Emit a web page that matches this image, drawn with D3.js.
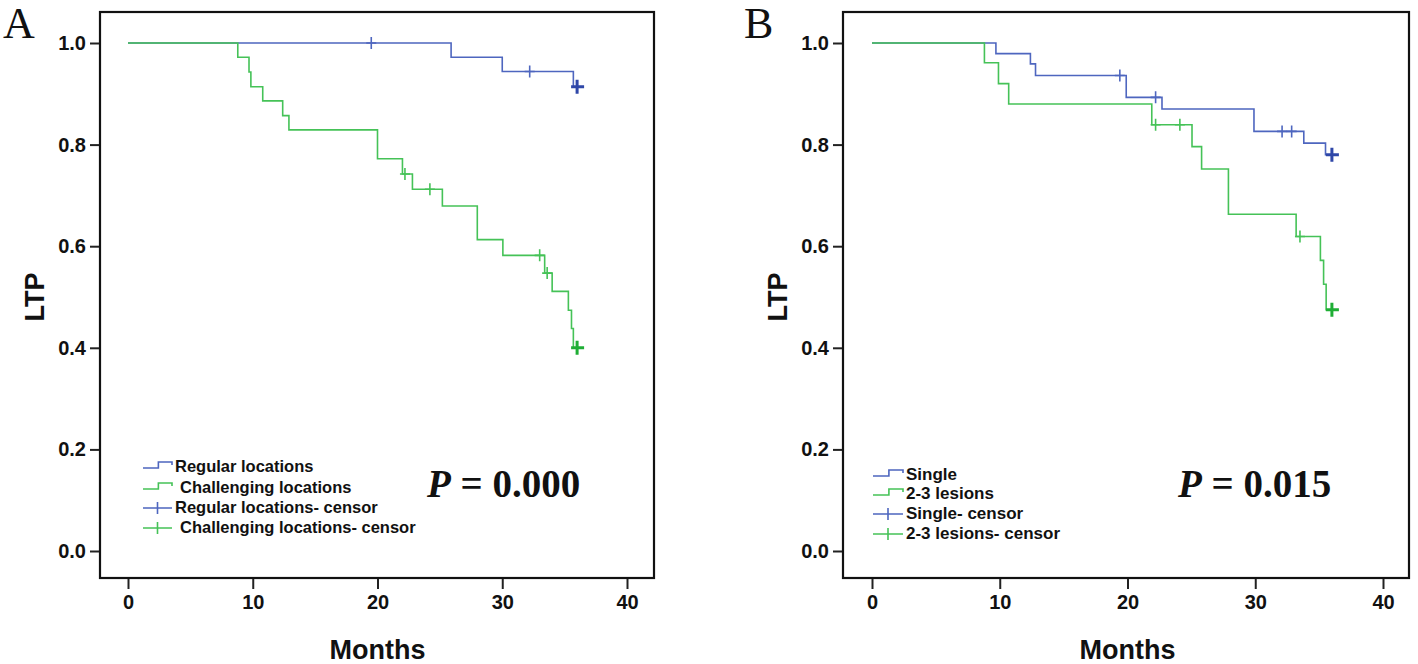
<!DOCTYPE html>
<html><head><meta charset="utf-8">
<script src="https://cdn.jsdelivr.net/npm/d3@7"></script>
<style>html,body{margin:0;padding:0;background:#fff;}svg{display:block;}</style>
</head><body>
<svg id="chart" width="1418" height="664"></svg>
<script>
// ---------- DATA ----------
const xTicks = [0, 10, 20, 30, 40];
const yTicks = [0.0, 0.2, 0.4, 0.6, 0.8, 1.0];
const xLabel = "Months";
const yLabel = "LTP";

// Panel A — Regular locations (step points: [month, LTP])
const aRegularSteps = [[0,1],[25.9,0.972],[30.0,0.944],[35.7,0.914],[36,0.914]];
const aRegularCensor = [[19.5,1.0],[32.2,0.944]];
const aRegularCensorEnd = [[36,0.914]];
// Panel A — Challenging locations
const aChallengingSteps = [[0,1],[8.8,0.972],[9.7,0.943],[9.85,0.914],[10.8,0.886],[12.4,0.857],[12.9,0.829],
  [20.0,0.772],[22.0,0.742],[22.8,0.712],[25.2,0.679],[28.0,0.613],[30.05,0.582],[33.4,0.547],[34.0,0.511],
  [35.3,0.474],[35.55,0.438],[35.7,0.40],[36,0.40]];
const aChallengingCensor = [[22.2,0.742],[24.2,0.712],[33.0,0.582],[33.6,0.547]];
const aChallengingCensorEnd = [[36,0.40]];
const aLegend = ["Regular locations","Challenging locations","Regular locations- censor","Challenging locations- censor"];
const aPText = "0.000";

// Panel B — Single
const bSingleSteps = [[0,1],[9.7,0.979],[12.4,0.959],[12.8,0.936],[19.9,0.893],[22.7,0.870],[29.9,0.826],
  [33.8,0.803],[35.5,0.78],[36,0.78]];
const bSingleCensor = [[19.4,0.936],[22.2,0.893],[32.1,0.826],[32.85,0.826]];
const bSingleCensorEnd = [[36,0.78]];
// Panel B — 2-3 lesions
const bMultiSteps = [[0,1],[8.8,0.961],[9.9,0.920],[10.7,0.880],[21.9,0.839],[25.05,0.796],[25.8,0.752],
  [27.9,0.663],[33.2,0.619],[35.1,0.572],[35.35,0.525],[35.55,0.475],[36,0.475]];
const bMultiCensor = [[22.2,0.839],[24.1,0.839],[33.5,0.619]];
const bMultiCensorEnd = [[36,0.475]];
const bLegend = ["Single","2-3 lesions","Single- censor","2-3 lesions- censor"];
const bPText = "0.015";

// ---------- STYLE ----------
const blue = "#4e66bf", blueDark = "#2f47a8";
const green = "#45c257", greenDark = "#1fae35";
const sans = "'Liberation Sans', Arial, sans-serif";
const serif = "'Liberation Serif', 'Times New Roman', serif";

const svg = d3.select("#chart");

function panel(cfg) {
  const g = svg.append("g");
  const x = d3.scaleLinear().domain([0, 40]).range([cfg.x0, cfg.x40]);
  const y = d3.scaleLinear().domain([0, 1]).range([551, 43]);

  // frame
  g.append("rect").attr("x", cfg.left).attr("y", 12)
    .attr("width", cfg.right - cfg.left).attr("height", 578 - 12)
    .attr("fill", "none").attr("stroke", "#111").attr("stroke-width", 2.2);

  // axes
  const xAxis = d3.axisBottom(x).tickValues(xTicks).tickSize(10).tickPadding(6).tickFormat(d3.format("d"));
  const gx = g.append("g").attr("transform", "translate(0,579)").call(xAxis);
  gx.select(".domain").remove();
  gx.selectAll("line").attr("stroke", "#222").attr("stroke-width", 2);
  gx.selectAll("text").attr("font-family", sans).attr("font-weight", "bold").attr("font-size", 20).attr("fill", "#111");

  const yAxis = d3.axisLeft(y).tickValues(yTicks).tickSize(9).tickPadding(4).tickFormat(d3.format(".1f"));
  const gy = g.append("g").attr("transform", `translate(${cfg.left - 1},0)`).call(yAxis);
  gy.select(".domain").remove();
  gy.selectAll("line").attr("stroke", "#222").attr("stroke-width", 2);
  gy.selectAll("text").attr("font-family", sans).attr("font-weight", "bold").attr("font-size", 20).attr("fill", "#111");

  // axis titles
  g.append("text").attr("x", (cfg.x0 + cfg.x40) / 2).attr("y", 659).attr("text-anchor", "middle")
    .attr("font-family", sans).attr("font-weight", "bold").attr("font-size", 27).attr("fill", "#111").text(xLabel);
  g.append("text").attr("transform", `translate(${cfg.left - 56},297) rotate(-90)`).attr("text-anchor", "middle")
    .attr("font-family", sans).attr("font-weight", "bold").attr("font-size", 27).attr("fill", "#111").text(yLabel);

  // panel letter
  g.append("text").attr("x", cfg.letterX).attr("y", 38).attr("font-family", serif).attr("font-size", 44)
    .attr("fill", "#111").text(cfg.letter);

  // curves
  const line = d3.line().x(d => x(d[0])).y(d => y(d[1])).curve(d3.curveStepAfter);
  cfg.series.forEach(s => {
    g.append("path").datum(s.steps).attr("d", line).attr("fill", "none")
      .attr("stroke", s.color).attr("stroke-width", 1.6);
  });
  cfg.series.forEach(s => {
    g.selectAll(null).data(s.censor).enter().append("path")
      .attr("d", d => `M${x(d[0])},${y(d[1]) - 6}V${y(d[1]) + 6}M${x(d[0]) - 5},${y(d[1])}H${x(d[0]) + 5}`)
      .attr("stroke", s.color).attr("stroke-width", 1.6).attr("fill", "none");
    g.selectAll(null).data(s.censorEnd).enter().append("path")
      .attr("d", d => `M${x(d[0])},${y(d[1]) - 7}V${y(d[1]) + 7}M${x(d[0]) - 6},${y(d[1])}H${x(d[0]) + 7}`)
      .attr("stroke", s.dark).attr("stroke-width", 3).attr("fill", "none");
  });

  // legend
  const L = cfg.legend;
  cfg.legendText.forEach((t, i) => {
    const yy = L.rows[i];
    const col = i % 2 === 0 ? blue : green;
    const xs = L.x, xe = L.x + L.w, xm = L.x + L.w * 0.53;
    let d;
    if (i < 2) d = `M${xs},${yy + 1}H${xm}V${yy - 5}H${xe}V${yy - 2}`;
    else d = `M${xs},${yy}H${xe}M${xs + L.w / 2},${yy - 6}V${yy + 6}`;
    g.append("path").attr("d", d).attr("fill", "none").attr("stroke", col).attr("stroke-width", 1.6);
    g.append("text").attr("x", xe + 3 + (cfg.indent && i % 2 === 1 ? 5 : 0)).attr("y", yy + 5)
      .attr("font-family", sans).attr("font-weight", "bold").attr("font-size", L.fs).attr("fill", "#111").text(t);
  });

  // p value
  const pt = g.append("text").attr("x", cfg.pX).attr("y", 497).attr("font-family", serif)
    .attr("font-weight", "bold").attr("font-size", 39).attr("fill", "#111");
  pt.append("tspan").attr("font-style", "italic").text("P");
  pt.append("tspan").text(" = " + cfg.p);
}

panel({
  left: 100, right: 654, x0: 128, x40: 627, letter: "A", letterX: 3,
  series: [
    {steps: aRegularSteps, censor: aRegularCensor, censorEnd: aRegularCensorEnd, color: blue, dark: blueDark},
    {steps: aChallengingSteps, censor: aChallengingCensor, censorEnd: aChallengingCensorEnd, color: green, dark: greenDark}
  ],
  legend: {x: 143, w: 29, rows: [467, 488, 508, 528], fs: 16.5}, legendText: aLegend, indent: true,
  p: aPText, pX: 427
});
panel({
  left: 843, right: 1409, x0: 872, x40: 1383, letter: "B", letterX: 744,
  series: [
    {steps: bSingleSteps, censor: bSingleCensor, censorEnd: bSingleCensorEnd, color: blue, dark: blueDark},
    {steps: bMultiSteps, censor: bMultiCensor, censorEnd: bMultiCensorEnd, color: green, dark: greenDark}
  ],
  legend: {x: 873, w: 30, rows: [475, 494, 514, 534], fs: 17}, legendText: bLegend, indent: false,
  p: bPText, pX: 1178
});
</script>
</body></html>
